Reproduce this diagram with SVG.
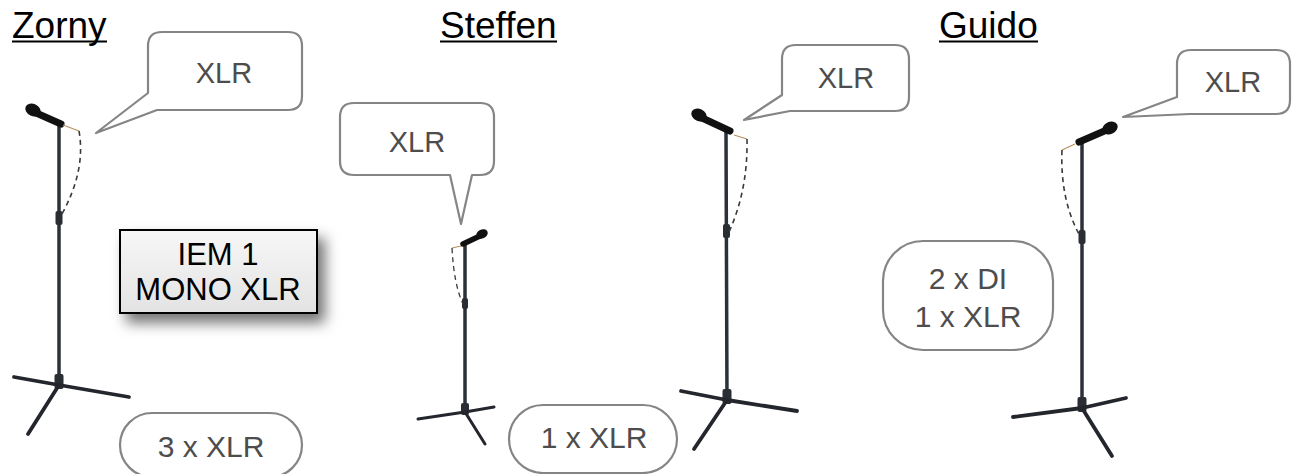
<svg xmlns="http://www.w3.org/2000/svg" width="1299" height="474" viewBox="0 0 1299 474">
  <style>
    .title { font-family: "Liberation Sans", Arial, sans-serif; font-size: 37px; fill: #000; }
    .uline { stroke: #000; stroke-width: 2; }
    .bubble { fill: #fff; stroke: #858585; stroke-width: 2.2; stroke-linejoin: round; }
    .lbl { font-family: "Liberation Sans", Arial, sans-serif; font-size: 29px; fill: #4d4d4d; text-anchor: middle; }
    .lbl2 { font-family: "Liberation Sans", Arial, sans-serif; font-size: 30px; fill: #4d4d4d; text-anchor: middle; }
    .iem { font-family: "Liberation Sans", Arial, sans-serif; font-size: 31px; fill: #000; text-anchor: middle; }
    .pole { stroke: #2c3038; stroke-width: 3.5; stroke-linecap: round; fill: none; }
    .leg { stroke: #23262c; stroke-width: 3.8; stroke-linecap: round; fill: none; }
    .mic { stroke: #111; stroke-width: 7; stroke-linecap: round; fill: none; }
    .head { fill: #111; }
    .wire { stroke: #b89060; stroke-width: 1.2; fill: none; }
    .cable { stroke: #3a3a3a; stroke-width: 1.6; stroke-dasharray: 5 4; fill: none; }
    .part { fill: #2a2d33; }
  </style>
  <defs>
    <linearGradient id="iemFill" x1="0" y1="0" x2="0" y2="1">
      <stop offset="0" stop-color="#f7f7f7"/>
      <stop offset="1" stop-color="#e3e3e3"/>
    </linearGradient>
    <filter id="shadow" x="-20%" y="-30%" width="150%" height="180%">
      <feDropShadow dx="7" dy="9" stdDeviation="7" flood-color="#000" flood-opacity="0.55"/>
    </filter>
  </defs>

  <!-- Titles -->
  <g id="title-zorny">
    <text class="title" x="12" y="38">Zorny</text>
    <line class="uline" x1="12" y1="41.5" x2="107" y2="41.5"/>
  </g>
  <g id="title-steffen">
    <text class="title" x="440" y="38">Steffen</text>
    <line class="uline" x1="440" y1="41.5" x2="557" y2="41.5"/>
  </g>
  <g id="title-guido">
    <text class="title" x="939" y="38">Guido</text>
    <line class="uline" x1="939" y1="41.5" x2="1038" y2="41.5"/>
  </g>

  <!-- Zorny mic stand -->
  <g id="stand-zorny">
    <line class="pole" x1="59" y1="124" x2="59" y2="385"/>
    <rect class="part" x="55.5" y="211" width="7" height="14" rx="2"/>
    <rect class="part" x="54.5" y="374" width="9" height="15" rx="2"/>
    <line class="leg" x1="59" y1="385" x2="14" y2="377"/>
    <line class="leg" x1="59" y1="385" x2="129" y2="397"/>
    <line class="leg" x1="59" y1="385" x2="28" y2="434"/>
    <line class="mic" x1="34" y1="112" x2="61" y2="124"/>
    <ellipse class="head" cx="33" cy="110" rx="8" ry="6" transform="rotate(25 33 110)"/>
    <line class="wire" x1="63" y1="125" x2="79" y2="131"/>
    <path class="cable" d="M79,131 Q86,170 62,214"/>
  </g>

  <g id="callout-zorny">
    <path class="bubble" d="M162,32 H288 Q302,32 302,46 V96 Q302,110 288,110 H157 L96,133 L148,93 V46 Q148,32 162,32 Z"/>
    <text class="lbl" x="224" y="83">XLR</text>
  </g>

  <g id="iem-box">
    <rect x="120" y="230" width="197" height="83" fill="url(#iemFill)" stroke="#000" stroke-width="2" filter="url(#shadow)"/>
    <text class="iem" x="218" y="265">IEM 1</text>
    <text class="iem" x="218" y="300">MONO XLR</text>
  </g>

  <g id="pill-zorny">
    <rect class="bubble" x="120" y="413" width="182" height="64" rx="32"/>
    <text class="lbl2" x="211" y="457">3 x XLR</text>
  </g>

  <!-- Steffen small stand -->
  <g id="stand-steffen-1">
    <line class="pole" x1="465" y1="244" x2="465" y2="412"/>
    <rect class="part" x="462" y="298" width="6" height="11" rx="2"/>
    <rect class="part" x="461" y="403" width="8" height="12" rx="2"/>
    <line class="leg" x1="465" y1="412" x2="418" y2="419" style="stroke-width:3"/>
    <line class="leg" x1="465" y1="412" x2="494" y2="407" style="stroke-width:3"/>
    <line class="leg" x1="465" y1="412" x2="485" y2="444" style="stroke-width:3"/>
    <line class="mic" x1="463" y1="244" x2="482" y2="235" style="stroke-width:5.5"/>
    <ellipse class="head" cx="482" cy="234" rx="6" ry="4.5" transform="rotate(-25 482 234)"/>
    <line class="wire" x1="461" y1="246" x2="452" y2="248"/>
    <path class="cable" d="M452,248 Q454,285 463,304" style="stroke-width:1.3"/>
  </g>

  <g id="callout-steffen-1">
    <path class="bubble" d="M354,103 H480 Q494,103 494,117 V161 Q494,175 480,175 H472 L461,224 L450,175 H354 Q340,175 340,161 V117 Q340,103 354,103 Z"/>
    <text class="lbl" x="417" y="152">XLR</text>
  </g>

  <g id="pill-steffen">
    <rect class="bubble" x="509" y="405" width="168" height="68" rx="34"/>
    <text class="lbl2" x="594" y="448">1 x XLR</text>
  </g>

  <!-- Steffen big stand -->
  <g id="stand-steffen-2">
    <line class="pole" x1="726" y1="130" x2="727" y2="400"/>
    <rect class="part" x="723" y="224" width="7" height="14" rx="2"/>
    <rect class="part" x="722.5" y="389" width="9" height="15" rx="2"/>
    <line class="leg" x1="727" y1="400" x2="681" y2="391"/>
    <line class="leg" x1="727" y1="400" x2="797" y2="411"/>
    <line class="leg" x1="727" y1="400" x2="694" y2="449"/>
    <line class="mic" x1="700" y1="117" x2="730" y2="131"/>
    <ellipse class="head" cx="699" cy="115" rx="8" ry="6" transform="rotate(25 699 115)"/>
    <line class="wire" x1="734" y1="135" x2="747" y2="139"/>
    <path class="cable" d="M747,139 Q748,190 729,232"/>
  </g>

  <g id="callout-steffen-2">
    <path class="bubble" d="M796,45 H895 Q909,45 909,59 V97 Q909,111 895,111 H790 L744,120 L782,95 V59 Q782,45 796,45 Z"/>
    <text class="lbl" x="846" y="88">XLR</text>
  </g>

  <!-- Guido stand -->
  <g id="stand-guido">
    <line class="pole" x1="1082" y1="140" x2="1082" y2="408"/>
    <rect class="part" x="1078.5" y="230" width="7" height="14" rx="2"/>
    <rect class="part" x="1077.5" y="397" width="9" height="15" rx="2"/>
    <line class="leg" x1="1082" y1="408" x2="1013" y2="417"/>
    <line class="leg" x1="1082" y1="408" x2="1126" y2="398"/>
    <line class="leg" x1="1082" y1="408" x2="1112" y2="456"/>
    <line class="mic" x1="1109" y1="129" x2="1079" y2="142"/>
    <ellipse class="head" cx="1110" cy="128" rx="8" ry="6" transform="rotate(-25 1110 128)"/>
    <line class="wire" x1="1075" y1="144" x2="1062" y2="150"/>
    <path class="cable" d="M1062,150 Q1060,200 1080,236"/>
  </g>

  <g id="callout-guido">
    <path class="bubble" d="M1191,50 H1276 Q1290,50 1290,64 V100 Q1290,114 1276,114 H1190 L1123,117 L1177,97 V64 Q1177,50 1191,50 Z"/>
    <text class="lbl" x="1233" y="92">XLR</text>
  </g>

  <g id="box-guido">
    <rect class="bubble" x="883" y="241" width="170" height="109" rx="40"/>
    <text class="lbl2" x="968" y="289">2 x DI</text>
    <text class="lbl2" x="968" y="327">1 x XLR</text>
  </g>
</svg>
